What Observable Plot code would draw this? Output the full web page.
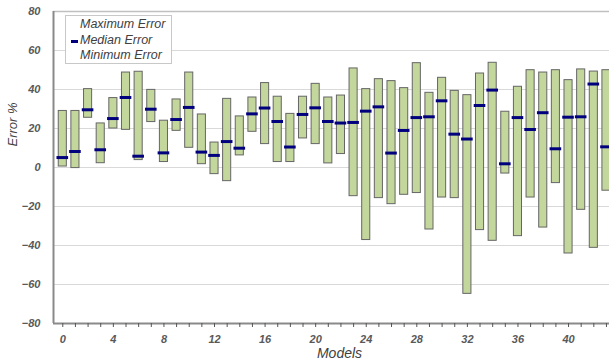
<!DOCTYPE html>
<html><head><meta charset="utf-8">
<script src="https://cdn.jsdelivr.net/npm/d3@7"></script>
<script src="https://cdn.jsdelivr.net/npm/@observablehq/plot@0.6"></script>
<style>
body{margin:0;background:#fff;}
#wrap{position:relative;width:609px;height:363px;overflow:hidden;background:#fff}
#legend{position:absolute;left:65px;top:15px;width:107px;height:49px;border:1px solid #c8c8c8;background:#fff;font-family:"Liberation Sans",Arial,sans-serif;font-style:italic;font-size:12.5px;color:#404040;box-sizing:border-box}
#legend div{position:absolute;left:14px;white-space:nowrap}
#legend .dash{position:absolute;left:5px;width:7px;height:3px;background:#00007f}
</style></head><body><div id="wrap"></div>
<script>
const models = [0,1,2,3,4,5,6,7,8,9,10,11,12,13,14,15,16,17,18,19,20,21,22,23,24,25,26,27,28,29,30,31,32,33,34,35,36,37,38,39,40,41,42,43];
const maxError = [29,29,40.2,22.6,35.6,48.7,49.1,39.8,24,34.9,48.7,27.2,12.8,35.2,26.2,35.9,43.3,36.3,27.5,36.3,42.9,35.9,36.9,50.8,40.2,45.3,44.3,40.7,53.5,38.3,46,39.3,37.1,48.2,53.7,28.6,41.4,49.9,48.7,49.9,44.8,50.3,49.2,49.9];
const medianError = [5.1,8.2,29.6,9.1,25.1,35.9,5.8,29.9,7.5,24.6,30.8,7.9,6.2,13.3,9.9,27.5,30.5,23.6,10.5,27.2,30.6,23.6,22.8,23.1,28.9,31.1,7.4,19,25.6,26,34.2,17.1,14.6,31.8,39.7,1.9,25.6,19.5,28.1,9.6,25.8,26,42.8,10.6];
const minError = [0.5,-0.3,25.5,2.2,20,19.3,3.8,23.3,2.8,18.8,10.1,1.7,-3.4,-7,6.2,18.3,12,2.8,2.8,14.9,12,2.1,6.9,-14.7,-37.2,-15.7,-18.8,-14,-13.1,-31.8,-15.4,-15.7,-64.8,-32.1,-37.6,-3.1,-35.2,-15.4,-30.8,-8,-44.1,-21.7,-41.2,-11.9];
const yTicks = [-80,-60,-40,-20,0,20,40,60,80];
const xTicks = [0,4,8,12,16,20,24,28,32,36,40];
const legendLabels = ["Maximum Error","Median Error","Minimum Error"];

const data = models.map((m,i)=>({m, max:maxError[i], med:medianError[i], min:minError[i]}));
const xDom = [-0.735, 43.24];

const chart = Plot.plot({
  width:609, height:363,
  marginLeft:53, marginTop:11, marginBottom:40, marginRight:0,
  style:{fontFamily:"'Liberation Sans', Arial, sans-serif", fontStyle:"italic", fontWeight:"bold", fontSize:"11px", color:"#595959", background:"#fff"},
  x:{domain:xDom},
  y:{domain:[-80,80]},
  marks:[
    Plot.gridY(yTicks,{stroke:"#d9d9d9", strokeOpacity:1, strokeWidth:1.2}),
    Plot.ruleY([80],{stroke:"#c0c0c0", strokeWidth:1.5}),
    Plot.rectY(data,{x1:d=>d.m-0.32, x2:d=>d.m+0.32, y1:"min", y2:"max", fill:"#c3d69b", stroke:"#666", strokeWidth:1}),
    Plot.ruleY(data,{y:"med", x1:d=>d.m-0.46, x2:d=>d.m+0.46, stroke:"#00007f", strokeWidth:3}),
    Plot.ruleX([xDom[0]],{stroke:"#8a8a8a", strokeWidth:2}),
    Plot.ruleY([-80],{stroke:"#8a8a8a", strokeWidth:2}),
    Plot.axisY(yTicks,{tickSize:0, tickPadding:13, label:null}),
    Plot.axisX(models,{tickSize:4, tickFormat:()=>"", label:null, stroke:"#555"}),
    Plot.axisX(xTicks,{tickSize:0, tickPadding:12, label:null}),
    Plot.text(["Error %"],{frameAnchor:"left", rotate:-90, dx:-41, dy:-21, fontSize:13, fill:"#404040", fontWeight:"normal"}),
    Plot.text(["Models"],{frameAnchor:"bottom", dx:8, dy:34, fontSize:14, fill:"#404040", fontWeight:"normal"})
  ]
});
const wrap = document.getElementById("wrap");
wrap.appendChild(chart);
const lg = document.createElement("div");
lg.id = "legend";
legendLabels.forEach((t,i)=>{
  const d = document.createElement("div");
  d.textContent = t;
  d.style.top = (1 + i*15.5) + "px";
  lg.appendChild(d);
  if (t === "Median Error") {
    const s = document.createElement("span");
    s.className = "dash";
    s.style.top = (1 + i*15.5 + 7) + "px";
    lg.appendChild(s);
  }
});
wrap.appendChild(lg);
</script></body></html>
